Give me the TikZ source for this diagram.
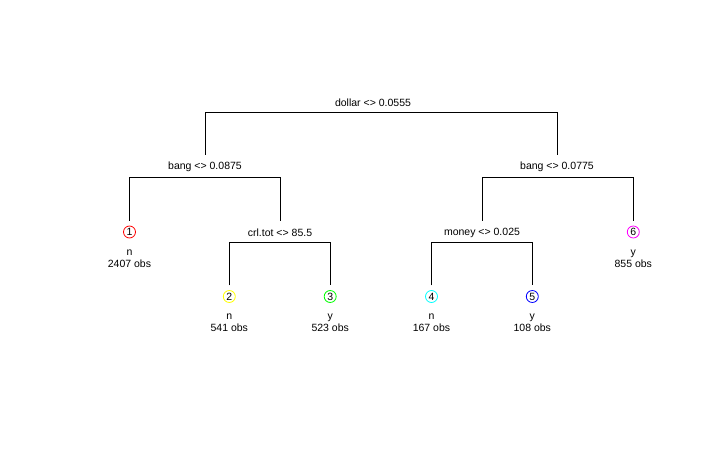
\documentclass[tikz,border=0pt]{standalone}
\usepackage{fontspec}
\setmainfont{Liberation Sans}
\usetikzlibrary{positioning}
\definecolor{leafred}{RGB}{255,0,0}
\definecolor{leafyellow}{RGB}{255,255,0}
\definecolor{leafgreen}{RGB}{0,255,0}
\definecolor{leafcyan}{RGB}{0,255,255}
\definecolor{leafblue}{RGB}{0,0,255}
\definecolor{leafmagenta}{RGB}{255,0,255}
\tikzset{
    treefont/.style={font=\fontsize{10.5}{12}\selectfont},
    split/.style={treefont, inner sep=0pt, minimum height=23pt},
    leaf/.style={treefont, circle, draw=#1, line width=0.8pt, inner sep=0pt,
        minimum size=12pt, outer sep=5pt},
    info/.style={treefont, align=center, inner sep=0pt},
    branch/.style={line width=1pt}
}

\begin{document}
\begin{tikzpicture}[x=1pt, y=-1pt]
        \useasboundingbox (0,0) rectangle (724,449);
        % split labels
        \node[split] (dollar) at (373,102.7) {dollar <> 0.0555};
        \node[split] (bangl) at (205,166.7) {bang <> 0.0875};
        \node[split] (bangr) at (557,166.7) {bang <> 0.0775};
        \node[split] (crltot) at (280,232.7) {crl.tot <> 85.5};
        \node[split] (money) at (482,232.7) {money <> 0.025};
        % bars
        \coordinate (dollarbar) at (373,112.3);
        \coordinate (banglbar) at (205,177.3);
        \coordinate (bangrbar) at (557,177.3);
        \coordinate (crltotbar) at (280,242.3);
        \coordinate (moneybar) at (482,242.3);
        % leaves
        \node[leaf=leafred] (leaf1) at (129.5,232) {1};
        \node[leaf=leafyellow] (leaf2) at (229.3,296.5) {2};
        \node[leaf=leafgreen] (leaf3) at (330.2,296.5) {3};
        \node[leaf=leafcyan] (leaf4) at (431.5,296.5) {4};
        \node[leaf=leafblue] (leaf5) at (532.3,296.5) {5};
        \node[leaf=leafmagenta] (leaf6) at (633.3,232) {6};
        \node[info] (info1) at (129.5,258.5) {n\\2407 obs};
        \node[info] (info2) at (229.3,323) {n\\541 obs};
        \node[info] (info3) at (330.2,323) {y\\523 obs};
        \node[info] (info4) at (431.5,323) {n\\167 obs};
        \node[info] (info5) at (532.3,323) {y\\108 obs};
        \node[info] (info6) at (633.3,258.5) {y\\855 obs};
        % branches
        \draw[branch] (bangl.north) |- (dollarbar) -| (bangr.north);
        \draw[branch] (leaf1.north) |- (banglbar) -| (crltot.north);
        \draw[branch] (money.north) |- (bangrbar) -| (leaf6.north);
        \draw[branch] (leaf2.north) |- (crltotbar) -| (leaf3.north);
        \draw[branch] (leaf4.north) |- (moneybar) -| (leaf5.north);
\end{tikzpicture}
\end{document}
